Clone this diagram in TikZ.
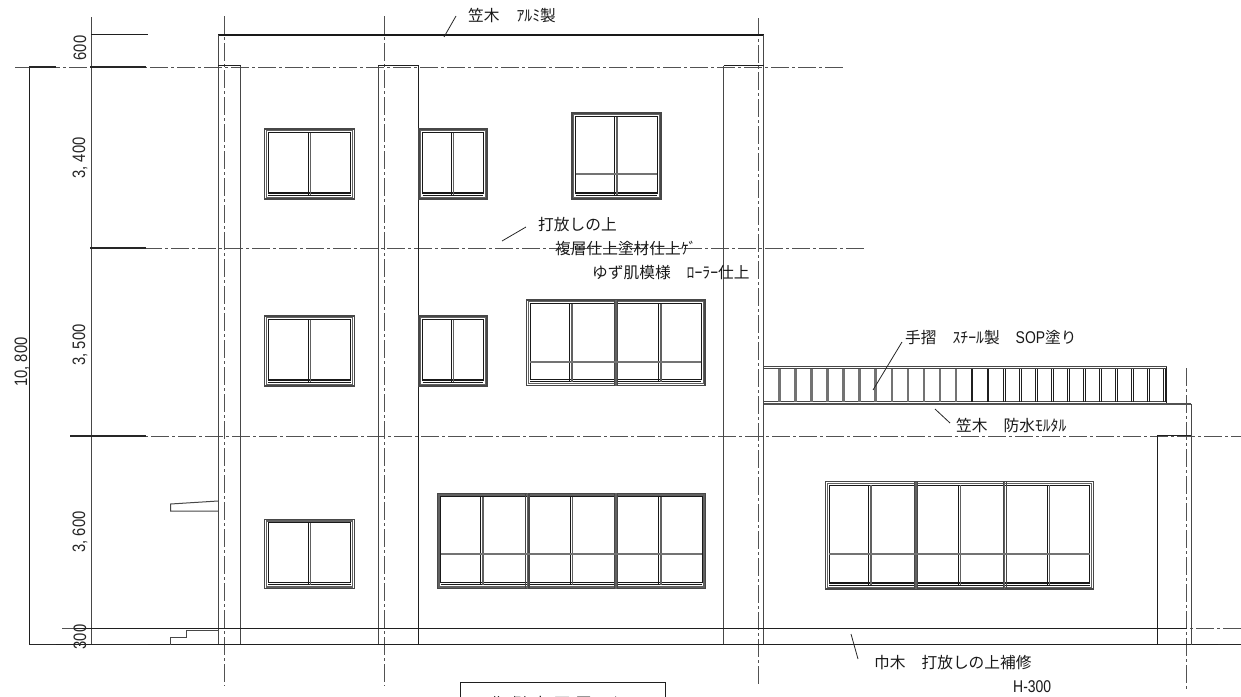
\documentclass[tikz,border=0pt]{standalone}
\usepackage{fontspec}
\newfontfamily\jp{Noto Sans CJK JP}
\newfontfamily\dimf[FakeStretch=0.82]{Liberation Sans}
\newcommand{\kan}[1]{{\fontsize{15.7}{16}\selectfont\jp #1}}
\newcommand{\dmn}[1]{{\fontsize{18}{19}\selectfont\dimf #1}}
\newcommand{\lat}[1]{{\fontsize{17}{18}\selectfont\dimf #1}}
% window: x1,y1,x2,y2, list of unit dividers, list of mullions, transom y
\newcommand{\winframe}[7]{%
  \draw[frameo] (#1,#2) rectangle (#3,#4);
  \draw[frameg] (#1+1.8,#2+1.8) rectangle (#3-1.8,#4-1.8);
  \draw[framei] (#1+3.6,#2+3.6) rectangle (#3-3.6,#4-6);
  \draw[framei] (#1+3.6,#4-3.8) -- (#3-3.6,#4-3.8);
  \foreach \d in {#5} {\draw[frameo] (\d-1.6,#2) -- (\d-1.6,#4); \draw[frameo] (\d+1.6,#2) -- (\d+1.6,#4);
     \draw[frameg] (\d,#2) -- (\d,#4);}
  \foreach \m in {#6} {\draw[framei] (\m-1.2,#2+3.6) -- (\m-1.2,#4-3.8); \draw[frameg] (\m+1,#2+3.6) -- (\m+1,#4-3.8);}
  \foreach \t in {#7} {\draw[framet] (#1+3.6,\t) -- (#3-3.6,\t);}
}
\tikzset{
  x=1pt,y=-1pt,
  wall/.style={line width=1pt,black!72},
  thin line/.style={line width=1pt,black!88},
  heavy/.style={line width=2.2pt,black!90},
  mark line/.style={line width=1.5pt,black!85},
  axis/.style={line width=0.9pt,black!68,dash pattern=on 18pt off 3pt on 3pt off 3pt},
  leader/.style={line width=0.8pt,black!85},
  frameo/.style={line width=1.2pt,black!72},
  frameg/.style={line width=1.3pt,black!62},
  framei/.style={line width=1.1pt,black!90},
  framet/.style={line width=2.4pt,black!55},
  baluster/.style={line width=2.4pt,black!55},
  label/.style={inner sep=0pt,anchor=west,text=black!90},
  dimlabel/.style={inner sep=0pt,rotate=90,anchor=center,text=black!85},
}
\begin{document}
\begin{tikzpicture}
\useasboundingbox (0,0) rectangle (1241,696);
\clip (0,0) rectangle (1241,696);
% axes
\draw[axis] (15,67) -- (845,67);
\draw[axis] (90,248) -- (865,248);
\draw[axis] (70,436) -- (1241,436);
\draw[axis] (62,628) -- (1241,628);
\draw[axis] (224,16) -- (224,686);
\draw[axis] (384.5,16) -- (384.5,686);
\draw[axis] (758.5,18) -- (758.5,686);
\draw[axis] (1186,368) -- (1186,690);
% dimension lines
\draw[thin line] (29.5,67) -- (29.5,644.5);
\draw[wall] (91,17) -- (91,644.5);
\draw[thin line] (91,34.5) -- (148,34.5);
\draw[mark line] (29,67) -- (56,67) (90,67) -- (146,67);
\draw[mark line] (90,248) -- (146,248);
\draw[mark line] (70,436) -- (146,436);
% building
\draw[heavy] (218,35) -- (763.5,35);
\draw[wall] (218,35) -- (218,644.5);
\draw[wall] (763.5,35) -- (763.5,644.5);
\draw[thin line] (218,65.5) -- (240.7,65.5);
\draw[wall] (240.7,65.5) -- (240.7,644.5);
\draw[thin line] (378,65.5) -- (418.7,65.5);
\draw[wall] (378,644.5) -- (378,65.5);
\draw[thin line] (418.7,65.5) -- (418.7,644.5);
\draw[wall] (723.5,644.5) -- (723.5,65.5);
\draw[thin line] (723.5,65.5) -- (763.5,65.5);
% floor and ground
\draw[thin line] (75,628) -- (1187,628);
\draw[thin line] (29,644.5) -- (1241,644.5);
\draw[mark line] (29,644.5) -- (56,644.5) (90,644.5) -- (148,644.5) (1218,644.5) -- (1241,644.5);
% annex
\draw[line width=1.8pt,black!68] (763.5,403.8) -- (1191,403.8);
\draw[wall] (1191,403.8) -- (1191,644.5);
\draw[thin line] (1157.5,644.5) -- (1157.5,435) -- (1191,435);
% railing
\draw[wall] (763.5,366.7) -- (1166.5,366.7);
\draw[wall] (763.5,368.7) -- (1166.5,368.7);
\draw[wall] (763.5,401.5) -- (1166.5,401.5);
\draw[thin line] (1166.5,366.7) -- (1166.5,403);
\foreach \i in {0,...,11} {
  \pgfmathsetmacro{\bx}{779.3+16.06*\i}
  \draw[baluster] (\bx,368.7) -- (\bx,402);
}
\foreach \i in {12,...,24} {
  \pgfmathsetmacro{\bx}{779.3+16.06*\i}
  \draw[thin line] (\bx-0.9,368.7) -- (\bx-0.9,402);
  \draw[thin line] (\bx+0.9,368.7) -- (\bx+0.9,402);
}
% canopy and steps
\draw[wall] (218,501) -- (170.5,504) -- (170.5,511) -- (218,511);
\draw[wall] (218,630) -- (186.7,630) -- (186.7,637) -- (170.5,637) -- (170.5,644.5);
% windows
\winframe{264.5}{129}{354.5}{199}{}{309.5}{}
\winframe{419}{129}{487}{199}{}{452.5}{}
\winframe{572}{113}{661}{199}{}{616}{174.2}
\winframe{264.5}{316}{354.5}{386}{}{309.5}{}
\winframe{419}{316}{487}{386}{}{452.5}{}
\winframe{526.7}{300}{705}{385.5}{616}{571,660}{361.8}
\winframe{264.5}{519.3}{354.5}{588.7}{}{309.5}{}
\winframe{437.3}{493.3}{705.7}{588.7}{527.3,616}{482,571.3,660}{554}
\winframe{825.7}{481.7}{1093.3}{589}{916,1004.7}{870,959.3,1048.7}{554}
% title box
\draw[thin line] (460,700) -- (460,682.7) -- (665.3,682.7) -- (665.3,700);
% dimension labels
\node[dimlabel] (d600) at (80,48) {\dmn{600}};
\node[dimlabel] (d3400) at (80,158) {\dmn{3, 400}};
\node[dimlabel] (d3500) at (80,345) {\dmn{3, 500}};
\node[dimlabel] (d3600) at (80,532) {\dmn{3, 600}};
\node[dimlabel] (d300) at (80,637) {\dmn{300}};
\node[dimlabel] (d10800) at (22,362) {\dmn{10, 800}};
% leaders
\draw[leader] (456,16) -- (444,37);
\draw[leader] (526,227) -- (502,241);
\draw[leader] (902,342) -- (873,390);
\draw[leader] (935,409) -- (950,423);
\draw[leader] (851,634) -- (858,659);
% notes
\node[label] (n1) at (468,16) {\kan{笠木\hspace{17pt}ｱﾙﾐ製}};
\node[label] (n2) at (538,225) {\kan{打放しの上}};
\node[label] (n3) at (555,248) {\kan{複層仕上塗材仕上ｹﾞ}};
\node[label] (n4) at (592,273) {\kan{ゆず肌模様\hspace{16pt}ﾛｰﾗｰ仕上}};
\node[label] (n5) at (905,338) {\kan{手摺\hspace{16pt}ｽﾁｰﾙ製\hspace{16pt}}\lat{SOP}\kan{塗り}};
\node[label] (n6) at (956,425) {\kan{笠木\hspace{16pt}防水ﾓﾙﾀﾙ}};
\node[label] (n7) at (874,663) {\kan{巾木\hspace{16pt}打放しの上補修}};
\node[label] (n8) at (1013,687) {\lat{H-300}};
\node[label] (n9) at (489,704) {\kan{北\hspace{6pt}側\hspace{6pt}立\hspace{6pt}面\hspace{6pt}図\hspace{10pt}1/100}};
\end{tikzpicture}
\end{document}
